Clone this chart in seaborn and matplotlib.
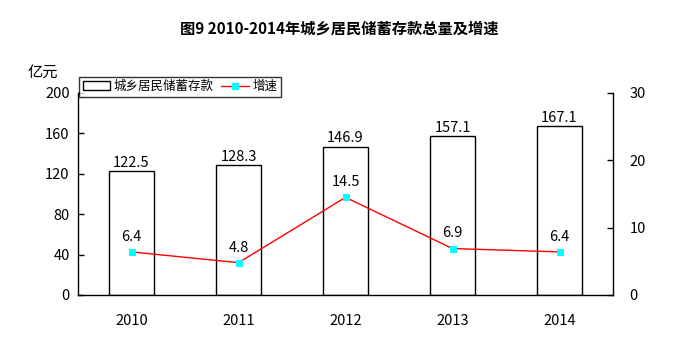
import matplotlib
matplotlib.use("Agg")
import matplotlib.pyplot as plt
import seaborn as sns
import pandas as pd
from matplotlib.patches import Patch
from matplotlib.lines import Line2D

years = ["2010", "2011", "2012", "2013", "2014"]
deposits = [122.5, 128.3, 146.9, 157.1, 167.1]
growth = [6.4, 4.8, 14.5, 6.9, 6.4]
left_ticks = [0, 40, 80, 120, 160, 200]
right_ticks = [0, 10, 20, 30]

sns.set_theme(style="white")
plt.rcParams['font.family'] = ['Noto Sans CJK SC', 'DejaVu Sans']
plt.rcParams['text.color'] = 'black'
plt.rcParams['xtick.color'] = 'black'
plt.rcParams['ytick.color'] = 'black'
plt.rcParams['axes.labelcolor'] = 'black'

df = pd.DataFrame({"year": years, "deposits": deposits, "growth": growth,
                   "pos": list(range(len(years)))})

fig = plt.figure(figsize=(6.79, 3.44), dpi=100)
ax = fig.add_axes([78/679, (344-295)/344, 535/679, 202/344])

sns.barplot(data=df, x="year", y="deposits", color="white", edgecolor="black",
            linewidth=1.0, width=0.42, ax=ax, saturation=1)
for p in ax.patches:
    p.set_facecolor("white")
ax.set_xlim(-0.5, len(years) - 0.5)
ax.set_ylim(0, 200)
ax.set_yticks(left_ticks)
ax.set_xlabel("")
ax.set_ylabel("")
for i, v in enumerate(deposits):
    ax.text(i, v + 1.5, f"{v:.1f}", ha="center", va="bottom", fontsize=10.5, color="black")

ax2 = ax.twinx()
sns.lineplot(data=df, x="pos", y="growth", color="red", linewidth=1.0,
             marker="s", markersize=5, markerfacecolor="cyan",
             markeredgecolor="cyan", ax=ax2)
ax2.set_ylim(0, 30)
ax2.set_yticks(right_ticks)
ax2.set_xlim(-0.5, len(years) - 0.5)
ax2.set_xlabel("")
ax2.set_ylabel("")
for i, v in enumerate(growth):
    ax2.text(i, v + 1.2, f"{v:.1f}", ha="center", va="bottom", fontsize=10.5, color="black")

for a in (ax, ax2):
    a.spines["top"].set_visible(False)
    for s in a.spines.values():
        s.set_color("black")
        s.set_linewidth(1.0)
ax.spines["right"].set_visible(False)
ax2.spines["left"].set_visible(False)
ax2.spines["bottom"].set_visible(False)

ax.set_xticks(range(len(years)))
ax.set_xticklabels(years)
ax.tick_params(axis="x", length=0, pad=14, labelsize=10.5, labelcolor="black")
ax.set_xticks([i + 0.5 for i in range(len(years) - 1)], minor=True)
ax.tick_params(axis="x", which="minor", direction="in", length=4, color="black", width=1)
ax.tick_params(axis="y", direction="in", length=4, color="black", width=1, labelsize=10.5,
               left=True, labelcolor="black", pad=6)
ax2.tick_params(axis="y", direction="in", length=4, color="black", width=1, labelsize=10.5,
                right=True, pad=12, labelcolor="black")

fig.text(0.5, 1 - 29/344, "图9 2010-2014年城乡居民储蓄存款总量及增速", ha="center",
         va="center", fontsize=11, fontweight="bold", color="black")
fig.text(43/679, 1 - 72/344, "亿元", ha="center", va="center", fontsize=11, color="black")

handles = [Patch(facecolor="white", edgecolor="black", linewidth=1.0),
           Line2D([0], [0], color="red", lw=1.0, marker="s", markersize=4,
                  markerfacecolor="cyan", markeredgecolor="cyan")]
leg = fig.legend(handles, ["城乡居民储蓄存款", "增速"], ncol=2,
                 loc="lower left", bbox_to_anchor=(79/679, (344-97)/344, 202/679, 23/344),
                 mode="expand", frameon=True, fancybox=False, fontsize=9,
                 borderpad=0.3, handlelength=2.2, handletextpad=0.3, columnspacing=1.5,
                 borderaxespad=0)
leg.get_frame().set_edgecolor("black")
leg.get_frame().set_linewidth(1.0)
for t in leg.get_texts():
    t.set_color("black")

fig.savefig("out.png", dpi=100, facecolor="white")
